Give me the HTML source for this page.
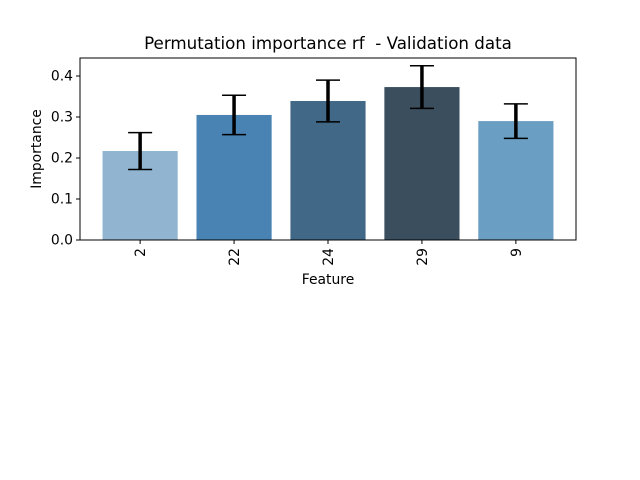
<!DOCTYPE html>
<html><head><meta charset="utf-8"><style>body{margin:0;background:#fff}svg{display:block;font-family:"DejaVu Sans","Liberation Sans",sans-serif}</style></head>
<body>
<svg id="chart" width="640" height="480">
<text x="328" y="49" text-anchor="middle" font-size="16.7">Permutation importance rf &#160;- Validation data</text>
<g id="plot"></g>
<rect x="80" y="58" width="496" height="182" fill="none" stroke="#000" stroke-width="1"/>
<text x="328" y="284" text-anchor="middle" font-size="13.9">Feature</text>
<text transform="translate(41,149) rotate(-90)" text-anchor="middle" font-size="13.9">Importance</text>
</svg>
<script>
const categories=["2","22","24","29","9"];
const values=[0.217,0.305,0.339,0.373,0.290];
const errors=[0.045,0.048,0.051,0.052,0.042];
const colors=["#91b5d0","#4883b3","#416887","#3a4e5e","#6a9ec2"];
const yTicks=[0,0.1,0.2,0.3,0.4];
const yTickLabels=["0.0","0.1","0.2","0.3","0.4"];
const ns="http://www.w3.org/2000/svg",g=document.getElementById("plot");
const x=i=>80+(i+0.64)/5.28*496, y=v=>240-v*410, bw=0.8/5.28*496;
function mk(t,a){const e=document.createElementNS(ns,t);for(const k in a)e.setAttribute(k,a[k]);g.appendChild(e);return e;}
yTicks.forEach((t,i)=>{
 const l=mk("line",{x1:76,x2:80,y1:y(t),y2:y(t),stroke:"#000"});
 
 
 const tx=mk("text",{x:73,y:y(t)+4.5,"text-anchor":"end","font-size":13.9});tx.textContent=yTickLabels[i];
 
 
});
categories.forEach((c,i)=>{
 const cx=x(i);
 const b=mk("rect",{x:cx-bw/2,y:y(values[i]),width:bw,height:y(0)-y(values[i]),fill:colors[i]});
 
 
 const hi=y(values[i]+errors[i]),lo=y(values[i]-errors[i]);
 const e=mk("path",{d:`M${cx-12},${hi}H${cx+12}M${cx-12},${lo}H${cx+12}`,stroke:"#000",fill:"none","stroke-width":1.5});
 
 
 const v=mk("line",{x1:cx,x2:cx,y1:hi,y2:lo,stroke:"#000","stroke-width":3.5});
 
 
 const t=mk("line",{x1:cx,x2:cx,y1:240,y2:244,stroke:"#000"});
 
 
 const tx=mk("text",{transform:`translate(${cx+5},248) rotate(-90)`,"text-anchor":"end","font-size":13.9});tx.textContent=c;
 
 
});
</script>
</body></html>
